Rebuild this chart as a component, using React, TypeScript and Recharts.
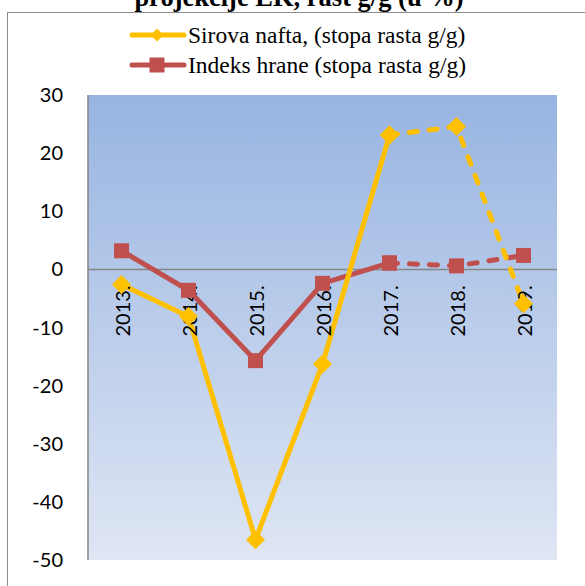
import {
  CartesianGrid,
  Line,
  LineChart,
  ReferenceDot,
  ReferenceLine,
  XAxis,
  YAxis,
} from "recharts";

const years = ["2013.", "2014.", "2015.", "2016.", "2017.", "2018.", "2019."];
const oilGrowth = [-2.6, -8.1, -46.5, -16.3, 23.1, 24.6, -5.9];
const foodGrowth = [3.2, -3.6, -15.7, -2.4, 1.1, 0.6, 2.4];
// projections start at 2017 (dashed from there on)
const projectionStart = 4;
const yTicks = [30, 20, 10, 0, -10, -20, -30, -40, -50];

const OIL = "#FFC000";
const FOOD = "#C0504D";
const AXIS = "#868686";
const SERIF = "Liberation Serif, Times New Roman, serif";

const data = years.map((year, i) => ({
  year,
  oil: i <= projectionStart ? oilGrowth[i] : null,
  oilProj: i >= projectionStart ? oilGrowth[i] : null,
  food: i <= projectionStart ? foodGrowth[i] : null,
  foodProj: i >= projectionStart ? foodGrowth[i] : null,
}));

const Diamond = (props: any) => {
  const { cx, cy, index } = props;
  if (cx == null || cy == null) return <g key={`d${index}`} />;
  const r = 9.5;
  return (
    <path
      key={`d${index}`}
      d={`M${cx},${cy - r}L${cx + r},${cy}L${cx},${cy + r}L${cx - r},${cy}Z`}
      fill={OIL}
    />
  );
};

const Square = (props: any) => {
  const { cx, cy, index } = props;
  if (cx == null || cy == null) return <g key={`s${index}`} />;
  const s = 15;
  return (
    <rect
      key={`s${index}`}
      x={cx - s / 2}
      y={cy - s / 2}
      width={s}
      height={s}
      fill={FOOD}
    />
  );
};

const YearLabel = (props: any) => {
  const { viewBox, value } = props;
  if (!viewBox) return null;
  const x = viewBox.x + 8;
  const y = viewBox.y + 16;
  return (
    <text
      x={x}
      y={y}
      transform={`rotate(-90 ${x} ${y})`}
      textAnchor="end"
      fontFamily="Lato, sans-serif"
      fontSize={20}
      fill="#000"
    >
      {value}
    </text>
  );
};

const legendItems = [
  { label: "Sirova nafta, (stopa rasta g/g)", color: OIL, shape: "diamond" },
  { label: "Indeks hrane (stopa rasta g/g)", color: FOOD, shape: "square" },
];

const LegendRow = ({ item, top }: { item: any; top: number }) => (
  <div
    style={{
      position: "absolute",
      left: 129,
      top,
      height: 26,
      display: "flex",
      alignItems: "center",
      fontFamily: SERIF,
      fontSize: 23.5,
      color: "#000",
      whiteSpace: "nowrap",
    }}
  >
    <svg width={58} height={20} style={{ marginRight: 1 }}>
      <line
        x1={3}
        y1={10}
        x2={55}
        y2={10}
        stroke={item.color}
        strokeWidth={5}
        strokeLinecap="round"
      />
      {item.shape === "diamond" ? (
        <path d="M28,3.5L34.5,10L28,16.5L21.5,10Z" fill={item.color} />
      ) : (
        <rect x={20.5} y={2.5} width={15} height={15} fill={item.color} />
      )}
    </svg>
    <span>{item.label}</span>
  </div>
);

export default function App() {
  return (
    <div
      style={{
        position: "absolute",
        left: 0,
        top: 0,
        width: 585,
        height: 586,
        overflow: "hidden",
        background: "#fff",
      }}
    >
      <div
        style={{
          position: "absolute",
          left: 7,
          top: 12,
          width: 700,
          height: 700,
          borderTop: "1.5px solid #8c8c8c",
          borderLeft: "1.5px solid #8c8c8c",
        }}
      />
      <svg
        width={585}
        height={30}
        style={{ position: "absolute", left: 0, top: 0 }}
      >
        <text
          x={299}
          y={6}
          textAnchor="middle"
          fontFamily={SERIF}
          fontWeight="bold"
          fontSize={26.5}
        >
          projekcije EK, rast g/g (u %)
        </text>
      </svg>
      <LegendRow item={legendItems[0]} top={22} />
      <LegendRow item={legendItems[1]} top={52} />
      <div style={{ position: "absolute", left: 0, top: 0 }}>
        <LineChart
          width={585}
          height={586}
          data={data}
          margin={{ top: 95, right: 28, bottom: 26, left: 28 }}
        >
          <defs>
            <linearGradient id="plotBg" x1="0" y1="0" x2="0" y2="1">
              <stop offset="0%" stopColor="#97B4E1" />
              <stop offset="100%" stopColor="#DFE6F4" />
            </linearGradient>
          </defs>
          <CartesianGrid
            fill="url(#plotBg)"
            horizontal={false}
            vertical={false}
            stroke="none"
          />
          <XAxis dataKey="year" scale="band" hide />
          <YAxis
            width={60}
            domain={[-50, 30]}
            ticks={yTicks}
            interval={0}
            axisLine={{ stroke: AXIS, strokeWidth: 1.5 }}
            tickLine={false}
            tickSize={0}
            tickMargin={25}
            tick={{ fill: "#000", fontSize: 20, fontFamily: "Lato, sans-serif" }}
          />
          <ReferenceLine y={0} stroke={AXIS} strokeWidth={1.5} />
          {years.map((year) => (
            <ReferenceDot
              key={year}
              x={year}
              y={0}
              r={0}
              fill="none"
              stroke="none"
              label={(p: any) => <YearLabel {...p} value={year} />}
            />
          ))}
          <Line
            dataKey="foodProj"
            stroke={FOOD}
            strokeWidth={5}
            strokeDasharray="8 12"
            strokeLinecap="round"
            dot={Square}
            activeDot={false}
            isAnimationActive={false}
          />
          <Line
            dataKey="food"
            stroke={FOOD}
            strokeWidth={5}
            dot={Square}
            activeDot={false}
            isAnimationActive={false}
          />
          <Line
            dataKey="oilProj"
            stroke={OIL}
            strokeWidth={5}
            strokeDasharray="8 12"
            strokeLinecap="round"
            dot={Diamond}
            activeDot={false}
            isAnimationActive={false}
          />
          <Line
            dataKey="oil"
            stroke={OIL}
            strokeWidth={5}
            dot={Diamond}
            activeDot={false}
            isAnimationActive={false}
          />
        </LineChart>
      </div>
    </div>
  );
}
